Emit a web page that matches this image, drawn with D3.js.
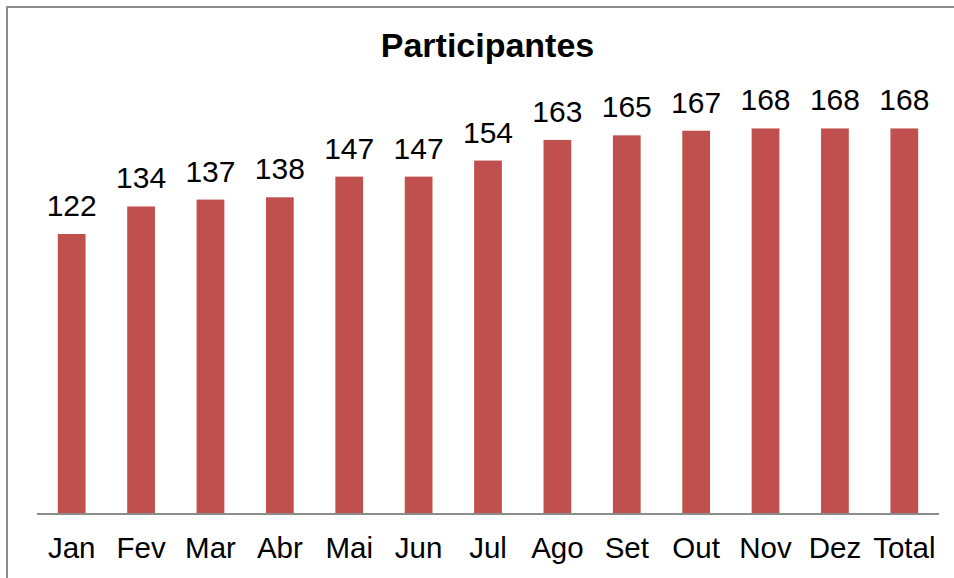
<!DOCTYPE html>
<html><head><meta charset="utf-8">
<script src="https://cdn.jsdelivr.net/npm/d3@7"></script>
<style>html,body{margin:0;padding:0;background:#fff;}svg{display:block;}</style>
</head><body>
<script>
const categories = ["Jan","Fev","Mar","Abr","Mai","Jun","Jul","Ago","Set","Out","Nov","Dez","Total"];
const values = [122,134,137,138,147,147,154,163,165,167,168,168,168];
const title = "Participantes";

const W = 954, H = 578;
const svg = d3.select("body").append("svg").attr("width", W).attr("height", H);
svg.append("rect").attr("x", 7).attr("y", 7).attr("width", W + 10).attr("height", H + 10)
  .attr("fill", "#fff").attr("stroke", "#8c8c8c").attr("stroke-width", 2);

const x = d3.scaleBand().domain(categories).range([37, 939]).paddingInner(0.6).paddingOuter(0.3);
const y = d3.scaleLinear().domain([0, 180]).range([514, 514 - 180 * 2.295]);

svg.append("text").attr("x", 487.5).attr("y", 57).attr("text-anchor", "middle")
  .attr("font-family", "Liberation Sans, Arial, sans-serif").attr("font-weight", "bold")
  .attr("font-size", 34).attr("fill", "#000").text(title);

svg.selectAll("rect.bar").data(values).join("rect").attr("class", "bar")
  .attr("x", (d, i) => x(categories[i])).attr("width", x.bandwidth())
  .attr("y", d => y(d)).attr("height", d => y(0) - y(d)).attr("fill", "#C0504D");

svg.selectAll("text.val").data(values).join("text").attr("class", "val")
  .attr("x", (d, i) => x(categories[i]) + x.bandwidth() / 2).attr("y", d => y(d) - 18)
  .attr("text-anchor", "middle").attr("font-family", "Liberation Sans, Arial, sans-serif")
  .attr("font-size", 30).attr("fill", "#000").text(d => d);

const axis = d3.axisBottom(x).tickSize(0).tickPadding(0);
const g = svg.append("g").attr("transform", "translate(0,514)").call(axis);
g.select(".domain").attr("stroke", "#8c8c8c").attr("stroke-width", 2).attr("d", "M37,0H939");
g.selectAll("text").attr("dy", null).attr("y", 44).attr("font-family", "Liberation Sans, Arial, sans-serif")
  .attr("font-size", 29.5).attr("fill", "#000");
</script>
</body></html>
